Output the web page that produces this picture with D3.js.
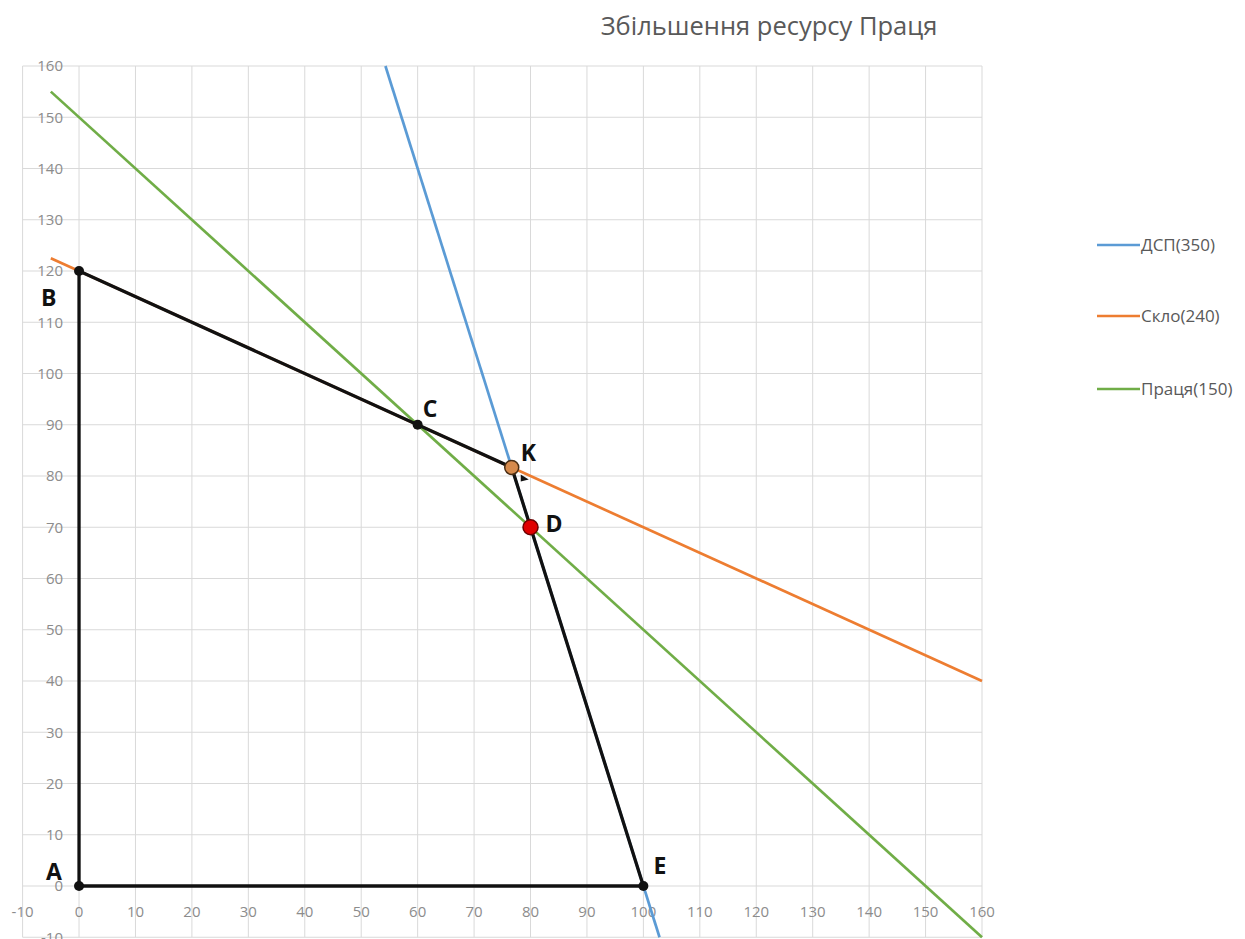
<!DOCTYPE html>
<html>
<head>
<meta charset="utf-8">
<script src="https://cdn.jsdelivr.net/npm/d3@7"></script>
<style>
  html, body { margin: 0; padding: 0; background: #fff; }
  svg { display: block; }
</style>
</head>
<body>
<svg id="chart" width="1245" height="939"></svg>
<script>
// Constraint lines (endpoints of each series)
const seriesNames = ["ДСП(350)", "Скло(240)", "Праця(150)"];
const dspX = [54.29, 102.86];
const dspY = [160, -10];
const skloX = [-5, 160];
const skloY = [122.5, 40];
const pratsiaX = [-5, 160];
const pratsiaY = [155, -10];

// Feasible region vertices
const vertexNames = ["A", "B", "C", "K", "D", "E"];
const vertexX = [0, 0, 60, 76.67, 80, 100];
const vertexY = [0, 120, 90, 81.67, 70, 0];

// Axis ticks
const xTickValues = [-10, 0, 10, 20, 30, 40, 50, 60, 70, 80, 90, 100, 110, 120, 130, 140, 150, 160];
const yTickValues = [-10, 0, 10, 20, 30, 40, 50, 60, 70, 80, 90, 100, 110, 120, 130, 140, 150, 160];

const title = "Збільшення ресурсу Праця";

// ---- styling ----
const colors = ["#5b9bd5", "#ed7d31", "#70ad47"];
const svg = d3.select("#chart");

const x = d3.scaleLinear().domain([-10, 160]).range([22.6, 982]);
const y = d3.scaleLinear().domain([-10, 160]).range([937.25, 66]);

// gridlines
const grid = svg.append("g").attr("stroke", "#d9d9d9").attr("stroke-width", 1);
grid.selectAll("line.v").data(xTickValues).join("line")
  .attr("x1", d => x(d)).attr("x2", d => x(d))
  .attr("y1", y(160)).attr("y2", y(-10));
grid.selectAll("line.h").data(yTickValues).join("line")
  .attr("x1", x(-10)).attr("x2", x(160))
  .attr("y1", d => y(d)).attr("y2", d => y(d));

// tick labels
const tickFont = "'Open Sans', 'Noto Sans', sans-serif";
svg.append("g").selectAll("text").data(yTickValues).join("text")
  .attr("x", x(0) - 16).attr("y", d => y(d))
  .attr("dy", "0.35em").attr("text-anchor", "end")
  .attr("font-family", tickFont).attr("font-size", 15).attr("fill", "#8c8c8c")
  .text(d => d);
svg.append("g").selectAll("text").data(xTickValues).join("text")
  .attr("x", d => x(d)).attr("y", y(0) + 26)
  .attr("dy", "0.35em").attr("text-anchor", "middle")
  .attr("font-family", tickFont).attr("font-size", 15).attr("fill", "#8c8c8c")
  .text(d => d);

// constraint lines
const seriesXs = [dspX, skloX, pratsiaX];
const seriesYs = [dspY, skloY, pratsiaY];
const line = d3.line().x(d => x(d[0])).y(d => y(d[1]));
seriesNames.forEach((name, i) => {
  const pts = seriesXs[i].map((v, j) => [v, seriesYs[i][j]]);
  svg.append("path").datum(pts)
    .attr("d", line).attr("fill", "none")
    .attr("stroke", colors[i]).attr("stroke-width", 2.7);
});

// feasible region outline
const poly = vertexX.map((v, i) => [v, vertexY[i]]);
svg.append("path").datum(poly)
  .attr("d", d3.line().x(d => x(d[0])).y(d => y(d[1])).curve(d3.curveLinearClosed))
  .attr("fill", "none").attr("stroke", "#111").attr("stroke-width", 3.3)
  .attr("stroke-linejoin", "round");

// small arrowhead next to K
const kx = x(vertexX[3]), ky = y(vertexY[3]);
svg.append("path")
  .attr("d", `M${kx + 9},${ky + 7} L${kx + 9},${ky + 14} L${kx + 17},${ky + 12} Z`)
  .attr("fill", "#111");

// vertex markers
vertexNames.forEach((n, i) => {
  const cx = x(vertexX[i]), cy = y(vertexY[i]);
  if (n === "K") {
    svg.append("circle").attr("cx", cx).attr("cy", cy).attr("r", 7)
      .attr("fill", "#d68a4c").attr("stroke", "#4a2e14").attr("stroke-width", 1.5);
  } else if (n === "D") {
    svg.append("circle").attr("cx", cx).attr("cy", cy).attr("r", 7.5)
      .attr("fill", "#e00000").attr("stroke", "#6a0000").attr("stroke-width", 1.5);
  } else {
    svg.append("circle").attr("cx", cx).attr("cy", cy).attr("r", 5).attr("fill", "#111");
  }
});

// vertex labels
const labelOffset = { A: [-33, -14], B: [-38, 27], C: [5, -16], K: [9, -14], D: [15, -3], E: [10, -20] };
vertexNames.forEach((n, i) => {
  svg.append("text")
    .attr("x", x(vertexX[i]) + labelOffset[n][0])
    .attr("y", y(vertexY[i]) + labelOffset[n][1])
    .attr("dy", "0.35em")
    .attr("font-family", "'Open Sans', 'Noto Sans', sans-serif")
    .attr("font-weight", "bold").attr("font-size", 23).attr("fill", "#111")
    .text(n);
});

// title
svg.append("text")
  .attr("x", 769).attr("y", 26).attr("dy", "0.35em")
  .attr("text-anchor", "middle")
  .attr("font-family", "'Open Sans', 'Noto Sans', sans-serif")
  .attr("font-size", 25.5).attr("fill", "#595959")
  .text(title);

// legend
const legend = svg.append("g");
const legendY = [245, 316, 389];
seriesNames.forEach((name, i) => {
  legend.append("line")
    .attr("x1", 1097).attr("x2", 1140)
    .attr("y1", legendY[i]).attr("y2", legendY[i])
    .attr("stroke", colors[i]).attr("stroke-width", 2.7);
  legend.append("text")
    .attr("x", 1141).attr("y", legendY[i]).attr("dy", "0.35em")
    .attr("font-family", tickFont).attr("font-size", 17).attr("fill", "#595959")
    .text(name);
});
</script>
</body>
</html>
